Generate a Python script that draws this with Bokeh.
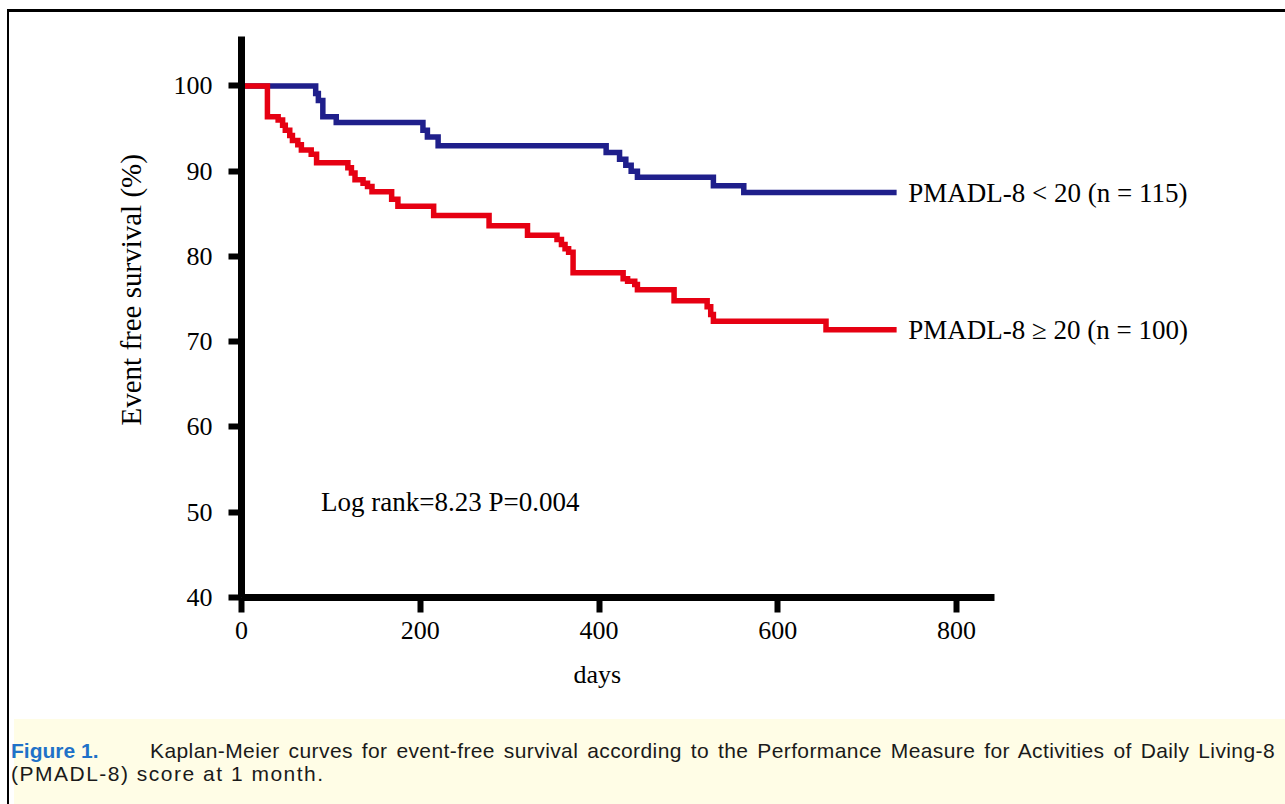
from bokeh.plotting import figure
from bokeh.models import LinearAxis, FixedTicker, Div, Range1d, Title
from bokeh.layouts import column
from bokeh.embed import file_html
from bokeh.resources import INLINE
from bokeh.core.properties import value

# ---- data ----
blue_days = [0, 83, 86, 91, 106, 203, 208, 220, 408, 423, 430, 436, 443, 528, 562, 733]
blue_surv = [100, 99.1, 98.3, 96.4, 95.7, 94.8, 94.0, 93.0, 92.2, 91.4, 90.7, 90.0, 89.3, 88.3, 87.5, 87.5]

red_days = [0, 29, 41, 46, 49, 54, 57, 63, 67, 78, 84, 119, 123, 127, 136, 141, 146, 168, 175,
            215, 277, 320, 353, 358, 362, 366, 371, 427, 432, 440, 443, 484, 521, 525, 528, 654, 733]
red_surv = [100, 96.4, 96.0, 95.4, 94.8, 94.2, 93.6, 93.1, 92.5, 92.0, 91.0, 90.4, 89.8, 89.0, 88.6, 88.2, 87.6, 86.7, 85.9,
            84.8, 83.6, 82.5, 82.0, 81.4, 80.9, 80.5, 78.1, 77.4, 77.1, 76.7, 76.1, 74.8, 74.1, 73.2, 72.4, 71.4, 71.4]

x_ticks = [0, 200, 400, 600, 800]
y_ticks = [40, 50, 60, 70, 80, 90, 100]

blue_label = "PMADL-8 < 20 (n = 115)"
red_label = "PMADL-8 \u2265 20 (n = 100)"
stat_text = "Log rank=8.23 P=0.004"
x_title = "days"
y_title = "Event free survival (%)"
caption_head = "Figure 1."
caption_line1 = "Kaplan-Meier curves for event-free survival according to the Performance Measure for Activities of Daily Living-8"
caption_line2 = "(PMADL-8) score at 1 month."

SERIF = "Liberation Serif"
BLUE = "#1F1F8B"
RED = "#E60012"

p = figure(width=1276, height=702,
           x_range=Range1d(0, 1120), y_range=Range1d(40, 105.8),
           x_axis_type=None, y_axis_type=None,
           output_backend="svg", toolbar_location=None,
           min_border_left=232, min_border_top=24, min_border_bottom=117, min_border_right=43)
p.xgrid.visible = False
p.ygrid.visible = False
p.outline_line_color = None
p.background_fill_color = "white"
p.border_fill_color = "white"

def style_main(ax, size):
    ax.axis_line_width = 7
    ax.axis_line_color = "black"
    ax.major_tick_line_width = 6
    ax.major_tick_line_color = "black"
    ax.major_tick_in = 0
    ax.minor_tick_line_color = None
    ax.major_label_text_font = SERIF
    ax.major_label_text_font_size = size
    ax.major_label_text_color = "black"

xax = LinearAxis(ticker=FixedTicker(ticks=x_ticks), bounds=(0, 843))
style_main(xax, "26px")
xax.major_tick_out = 15
xax.major_label_standoff = 9
p.add_layout(xax, "below")

yax = LinearAxis(ticker=FixedTicker(ticks=y_ticks), bounds=(40, 105.8))
style_main(yax, "26px")
yax.major_tick_out = 13
yax.major_label_standoff = 16
p.add_layout(yax, "left")

xt = Title(text=x_title, align="left", offset=332, standoff=32,
           text_font=SERIF, text_font_size="26px", text_font_style="normal", text_color="black")
p.add_layout(xt, "below")
yt = Title(text=y_title, align="left", offset=172, standoff=48,
           text_font=SERIF, text_font_size="29px", text_font_style="normal", text_color="black")
p.add_layout(yt, "left")

p.step(x=blue_days, y=blue_surv, mode="after", line_color=BLUE, line_width=5.5, line_join="miter")
p.step(x=red_days, y=red_surv, mode="after", line_color=RED, line_width=5.5, line_join="miter")

p.text(x=[blue_days[-1] + 13, red_days[-1] + 13], y=[blue_surv[-1], red_surv[-1]],
       text=[blue_label, red_label], text_font=value(SERIF), text_font_size="27px",
       text_baseline="middle", text_align="left", text_color="black")
p.text(x=[89], y=[51.2], text=[stat_text], text_font=value(SERIF), text_font_size="27px",
       text_baseline="middle", text_align="left", text_color="black")

cap_html = (
    '<div style="margin:20px 0 0 -3px; width:1264px; font-family:\'Liberation Sans\',Arial,sans-serif; '
    'font-size:21px; line-height:23px; color:#1a1a1a;">'
    '<div style="text-align:justify; text-align-last:justify; letter-spacing:0.4px;">'
    '<span style="display:inline-block; width:139px; white-space:nowrap; text-align:left; text-align-last:left; '
    'color:#1F72C8; font-weight:bold; letter-spacing:0;">'
    + caption_head + '</span>' + caption_line1 + '</div>'
    '<div style="letter-spacing:1.5px;">' + caption_line2 + '</div>'
    '</div>'
)
cap = Div(text=cap_html, width=1276, height=86, styles={"background-color": "#FFFDE6"})

layout = column(p, cap, spacing=0,
                styles={"margin-left": "7px", "margin-top": "9px",
                        "border-top": "3px solid black", "border-left": "2px solid black"})

open("out.html", "w").write(file_html(layout, INLINE))
